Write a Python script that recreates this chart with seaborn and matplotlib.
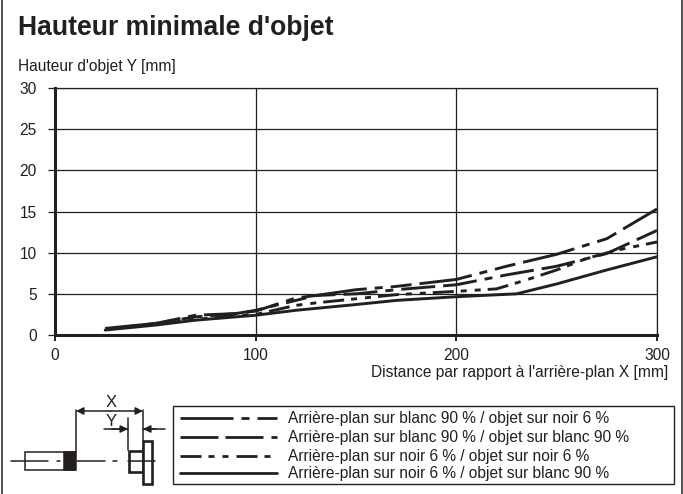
import matplotlib
matplotlib.use("Agg")
import matplotlib.pyplot as plt
import pandas as pd
import seaborn as sns

# valeurs
x_a = [25, 50, 70, 90, 100, 110, 120, 130, 150, 170, 200, 225, 250, 275, 300]
y_a = [0.8, 1.4, 2.2, 2.6, 3.0, 3.6, 4.2, 4.8, 5.5, 5.9, 6.75, 8.35, 9.8, 11.7, 15.3]
x_b = [25, 50, 70, 90, 100, 110, 120, 130, 150, 170, 200, 225, 250, 275, 300]
y_b = [0.7, 1.4, 2.4, 2.6, 2.9, 3.7, 4.5, 4.8, 5.0, 5.5, 6.1, 7.3, 8.35, 9.9, 12.7]
x_c = [25, 50, 70, 100, 120, 130, 150, 170, 200, 220, 235, 250, 265, 280, 300]
y_c = [0.7, 1.3, 1.9, 2.5, 3.6, 3.9, 4.4, 4.9, 5.3, 5.6, 6.7, 7.9, 9.3, 10.3, 11.3]
x_d = [25, 50, 70, 100, 120, 150, 170, 200, 230, 240, 250, 275, 300]
y_d = [0.6, 1.2, 1.8, 2.4, 3.0, 3.7, 4.2, 4.65, 5.0, 5.6, 6.2, 7.9, 9.5]

labels = [
    "Arrière-plan sur blanc 90 % / objet sur noir 6 %",
    "Arrière-plan sur blanc 90 % / objet sur blanc 90 %",
    "Arrière-plan sur noir 6 % / objet sur noir 6 %",
    "Arrière-plan sur noir 6 % / objet sur blanc 90 %",
]
x_ticks = [0, 100, 200, 300]
y_ticks = [0, 5, 10, 15, 20, 25, 30]

rows = []
for lab, xs, ys in zip(labels, [x_a, x_b, x_c, x_d], [y_a, y_b, y_c, y_d]):
    rows.append(pd.DataFrame({"x": xs, "y": ys, "serie": lab}))
df = pd.concat(rows)

sns.set_style("white")
plt.rcParams["font.family"] = ["Liberation Sans", "DejaVu Sans"]
W, H = 683, 494
fig = plt.figure(figsize=(W / 100, H / 100), dpi=100)
ink = "#231f20"
line_w = 2.1


def px_dash(pattern, lw=line_w):
    # motif en pixels -> unités de tirets matplotlib
    return tuple(p / (lw * 100 / 72) for p in pattern)


# axe principal, position en pixels
ax = fig.add_axes([55 / W, 1 - 335 / H, (657 - 55) / W, (335 - 88) / H])
styles = {
    labels[0]: px_dash((53, 8, 8, 8, 21, 8)),
    labels[1]: px_dash((34, 8, 34, 8, 8, 8)),
    labels[2]: px_dash((21, 7, 6, 8, 6, 7)),
    labels[3]: "",
}
sns.lineplot(data=df, x="x", y="y", hue="serie", style="serie", ax=ax,
             palette=[ink] * 4, dashes=styles, linewidth=line_w, sort=False,
             estimator=None, legend=False)
ax.set_xlim(0, 300)
ax.set_ylim(0, 30)
ax.set_xticks(x_ticks)
ax.set_yticks(y_ticks)
ax.set_xlabel("")
ax.set_ylabel("")
ax.grid(True, color=ink, linewidth=0.9)
ax.set_axisbelow(True)
ax.tick_params(axis="y", length=5, width=0.9, color=ink, labelsize=11.2, labelcolor=ink, pad=8, left=True)
ax.tick_params(axis="x", length=4, width=1.4, color=ink, labelsize=11.2, labelcolor=ink, pad=5, bottom=True)
for side in ["top", "right"]:
    ax.spines[side].set_linewidth(0.9)
    ax.spines[side].set_color(ink)
for side in ["left", "bottom"]:
    ax.spines[side].set_linewidth(2.2)
    ax.spines[side].set_color(ink)

# calque en pixels pour le texte, le cadre et le schéma
ov = fig.add_axes([0, 0, 1, 1], facecolor="none")
ov.set_xlim(0, W)
ov.set_ylim(H, 0)
ov.axis("off")

ov.text(18, 28, "Hauteur minimale d'objet", fontsize=19.1, fontweight="bold", color=ink, va="center")
ov.text(18, 66, "Hauteur d'objet Y [mm]", fontsize=11.2, color=ink, va="center")
ov.text(668, 372, "Distance par rapport à l'arrière-plan X [mm]", fontsize=11.2, color=ink, va="center", ha="right")

# cadre extérieur
ov.plot([2, 2], [0, H], color=ink, lw=1.1)
ov.plot([682, 682], [0, H], color=ink, lw=1.1)

# légende
ov.add_patch(plt.Rectangle((172.5, 406), 501.5, 78, fill=False, ec=ink, lw=1))
leg_y = [418, 437, 456, 473]
leg_dash = [
    (53, 8, 8, 8, 21, 0),
    (38, 7, 38, 8, 6, 0),
    (21, 7, 6, 8, 6, 8, 21, 7, 6, 8),
    None,
]
for yy, lab, d in zip(leg_y, labels, leg_dash):
    ln, = ov.plot([180, 277], [yy, yy], color=ink, lw=2.0)
    if d:
        ln.set_dashes(px_dash(d, 2.0))
    ov.text(288, yy, lab, fontsize=11.2, color=ink, va="center")

# schéma capteur / objet
lw = 1.1
ov.add_patch(plt.Rectangle((25, 452), 50, 18, fill=False, ec=ink, lw=lw))
ov.add_patch(plt.Rectangle((64, 452), 12, 18, fc=ink, ec=ink, lw=lw))
ov.add_patch(plt.Rectangle((128.5, 451), 14.5, 21, fill=False, ec=ink, lw=1.9))
ov.add_patch(plt.Rectangle((143, 441), 9, 43, fc="white", ec=ink, lw=1.9, zorder=3))
for x0, x1 in [(11, 48), (57, 60), (77, 105), (113, 117), (128, 155)]:
    ov.plot([x0, x1], [461, 461], color=ink, lw=lw, zorder=4 if x0 == 128 else 2)
ov.plot([76, 76], [410, 452], color=ink, lw=lw)
ov.plot([143, 143], [410, 441], color=ink, lw=lw)
ov.plot([128, 128], [418, 450], color=ink, lw=lw)
ov.plot([104, 128], [429, 429], color=ink, lw=lw)
ov.plot([143, 165], [429, 429], color=ink, lw=lw)
arrow = dict(arrowstyle="-|>", color=ink, lw=lw, mutation_scale=11, shrinkA=0, shrinkB=0)
ov.annotate("", xy=(76, 411), xytext=(110, 411), arrowprops=arrow)
ov.annotate("", xy=(143, 411), xytext=(110, 411), arrowprops=arrow)
ov.annotate("", xy=(128, 429), xytext=(112, 429), arrowprops=arrow)
ov.annotate("", xy=(143, 429), xytext=(156, 429), arrowprops=arrow)
ov.text(111, 402, "X", fontsize=12, color=ink, ha="center", va="center")
ov.text(111, 421, "Y", fontsize=12, color=ink, ha="center", va="center")

fig.savefig("out.png", dpi=100)
